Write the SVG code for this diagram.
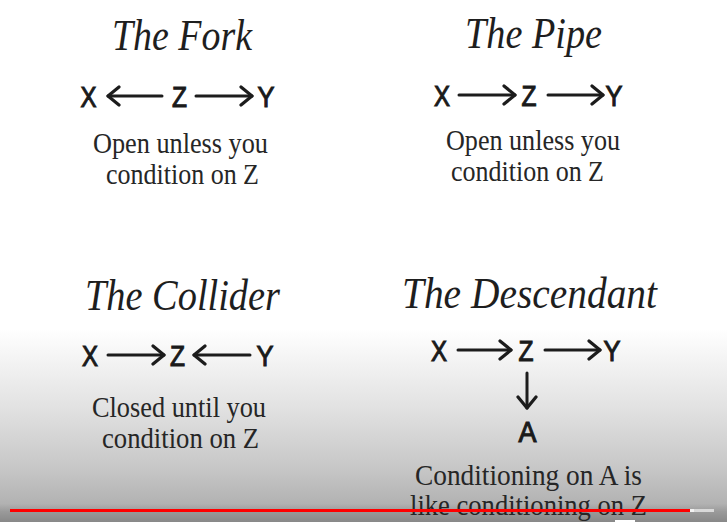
<svg xmlns="http://www.w3.org/2000/svg" width="727" height="522" viewBox="0 0 727 522">
  <defs>
    <linearGradient id="bg" x1="0" y1="0" x2="0" y2="522" gradientUnits="userSpaceOnUse">
      <stop offset="0" stop-color="#ffffff"/>
      <stop offset="0.63" stop-color="#ffffff"/>
      <stop offset="0.78" stop-color="#e2e2e2"/>
      <stop offset="0.90" stop-color="#c6c6c6"/>
      <stop offset="0.965" stop-color="#b2b2b2"/>
      <stop offset="0.98" stop-color="#9a9a9a"/>
      <stop offset="1" stop-color="#888888"/>
    </linearGradient>
    <marker id="head" viewBox="-14 -11 17 22" markerWidth="17" markerHeight="22" refX="0" refY="0" orient="auto" markerUnits="userSpaceOnUse">
      <path d="M-11,-9 L0,0 L-11,9" fill="none" stroke="#1c1c1c" stroke-width="3.2" stroke-linecap="round" stroke-linejoin="round"/>
    </marker>
    <style>
      .title { font-family: "Liberation Serif", "DejaVu Serif", serif; font-style: italic; font-size: 44px; fill: #1e1e1e; text-anchor: middle; }
      .body { font-family: "Liberation Serif", "DejaVu Serif", serif; font-size: 30px; fill: #262626; }
      .var { font-family: "Liberation Sans", "DejaVu Sans", sans-serif; font-size: 30px; fill: #1a1a1a; stroke: #1a1a1a; stroke-width: 1.1; text-anchor: middle; }
      .edge { fill: none; stroke: #1c1c1c; stroke-width: 3; stroke-linecap: round; marker-end: url(#head); }
    </style>
  </defs>

  <rect x="0" y="0" width="727" height="522" fill="url(#bg)"/>

  <!-- The Fork -->
  <g id="fork">
    <text class="title" x="182" y="50" textLength="140" lengthAdjust="spacingAndGlyphs">The Fork</text>
    <g id="fork-X"><text class="var" x="88.5" y="107" textLength="16" lengthAdjust="spacingAndGlyphs">X</text></g>
    <g id="fork-Z"><text class="var" x="179.5" y="107" textLength="15" lengthAdjust="spacingAndGlyphs">Z</text></g>
    <g id="fork-Y"><text class="var" x="266" y="107" textLength="17" lengthAdjust="spacingAndGlyphs">Y</text></g>
    <text class="body" x="93" y="153" textLength="175" lengthAdjust="spacingAndGlyphs">Open unless you</text>
    <text class="body" x="106" y="184" textLength="153" lengthAdjust="spacingAndGlyphs">condition on Z</text>
  </g>

  <!-- The Pipe -->
  <g id="pipe">
    <text class="title" x="533.5" y="48" textLength="137" lengthAdjust="spacingAndGlyphs">The Pipe</text>
    <g id="pipe-X"><text class="var" x="442" y="106" textLength="16" lengthAdjust="spacingAndGlyphs">X</text></g>
    <g id="pipe-Z"><text class="var" x="529" y="106" textLength="15" lengthAdjust="spacingAndGlyphs">Z</text></g>
    <g id="pipe-Y"><text class="var" x="614" y="106" textLength="17" lengthAdjust="spacingAndGlyphs">Y</text></g>
    <text class="body" x="446" y="150" textLength="174" lengthAdjust="spacingAndGlyphs">Open unless you</text>
    <text class="body" x="451" y="181" textLength="153" lengthAdjust="spacingAndGlyphs">condition on Z</text>
  </g>

  <!-- The Collider -->
  <g id="collider">
    <text class="title" x="182.5" y="310" textLength="195" lengthAdjust="spacingAndGlyphs">The Collider</text>
    <g id="collider-X"><text class="var" x="90" y="366" textLength="16" lengthAdjust="spacingAndGlyphs">X</text></g>
    <g id="collider-Z"><text class="var" x="177.5" y="366" textLength="15" lengthAdjust="spacingAndGlyphs">Z</text></g>
    <g id="collider-Y"><text class="var" x="265" y="366" textLength="17" lengthAdjust="spacingAndGlyphs">Y</text></g>
    <text class="body" x="92" y="417" textLength="174" lengthAdjust="spacingAndGlyphs">Closed until you</text>
    <text class="body" x="102" y="448" textLength="157" lengthAdjust="spacingAndGlyphs">condition on Z</text>
  </g>

  <!-- The Descendant -->
  <g id="descendant">
    <text class="title" x="529.5" y="308" textLength="255" lengthAdjust="spacingAndGlyphs">The Descendant</text>
    <g id="desc-X"><text class="var" x="439" y="361" textLength="16" lengthAdjust="spacingAndGlyphs">X</text></g>
    <g id="desc-Z"><text class="var" x="526" y="361" textLength="15" lengthAdjust="spacingAndGlyphs">Z</text></g>
    <g id="desc-Y"><text class="var" x="612" y="361" textLength="17" lengthAdjust="spacingAndGlyphs">Y</text></g>
    <g id="desc-A"><text class="var" x="527.5" y="442" textLength="18" lengthAdjust="spacingAndGlyphs">A</text></g>
    <text class="body" x="415" y="485" textLength="227" lengthAdjust="spacingAndGlyphs">Conditioning on A is</text>
    <text class="body" x="410" y="515" textLength="237" lengthAdjust="spacingAndGlyphs">like conditioning on Z</text>
  </g>

  <!-- Connectors -->
  <g id="connectors">
    <path class="edge" d="M162,96 L108,96"/>
    <path class="edge" d="M196,96 L252,96"/>
    <path class="edge" d="M459,95 L515,95"/>
    <path class="edge" d="M548,95 L603,95"/>
    <path class="edge" d="M108,355 L164,355"/>
    <path class="edge" d="M250,355 L194,355"/>
    <path class="edge" d="M458,350 L511,350"/>
    <path class="edge" d="M545,350 L600,350"/>
    <path class="edge" d="M527,373 L527,408"/>
  </g>

  <!-- Video player progress bar overlay -->
  <g id="player">
    <rect x="690" y="509" width="24" height="3" fill="#d9d9d9"/>
    <rect x="690" y="509" width="4" height="3" fill="#f2f2f2"/>
    <rect x="10" y="509" width="680" height="3" fill="#ff0000"/>
    <rect x="615" y="520" width="20" height="2" fill="#ffffff"/>
  </g>
</svg>
